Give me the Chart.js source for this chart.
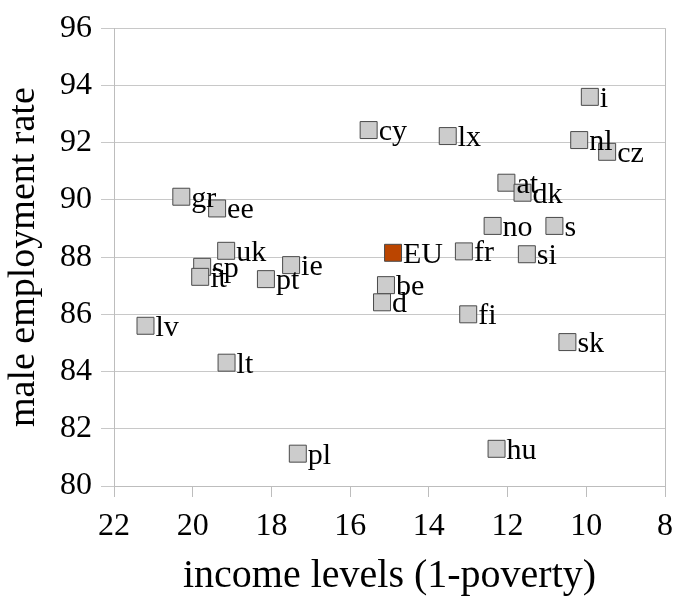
<!DOCTYPE html>
<html>
<head>
<meta charset="utf-8">
<script src="https://cdn.jsdelivr.net/npm/chart.js@4/dist/chart.umd.min.js"></script>
<style>
  html, body { margin: 0; padding: 0; background: #ffffff; }
  #wrap { width: 683px; height: 596px; }
</style>
</head>
<body>
<div id="wrap"><canvas id="c" width="683" height="596"></canvas></div>
<script>
const countries = ['gr','ee','uk','sp','it','pt','ie','i','lx','nl','cz','at','dk','no','s','fr','si','cy','EU','be','d','fi','sk','hu','lv','lt','pl'];
const incomeLevels = [20.29,19.38,19.15,19.76,19.81,18.14,17.50,9.91,13.52,10.18,9.47,12.03,11.62,12.38,10.81,13.11,11.51,15.53,14.91,15.09,15.19,13.00,10.48,12.28,21.20,19.14,17.33];
const maleEmployment = [90.11,89.70,88.22,87.66,87.31,87.23,87.72,93.60,92.23,92.09,91.68,90.60,90.25,89.09,89.09,88.20,88.10,92.44,88.15,87.02,86.42,86.00,85.03,81.30,85.60,84.31,81.13];
const xTicks = [22,20,18,16,14,12,10,8];
const yTicks = [80,82,84,86,88,90,92,94,96];

const FONT = '"Liberation Serif", "Times New Roman", serif';
const points = countries.map((c, i) => ({x: incomeLevels[i], y: maleEmployment[i]}));

const labelPlugin = {
  id: 'pointLabels',
  beforeDatasetsDraw(chart) {
    const {ctx, chartArea: a} = chart;
    ctx.save();
    ctx.strokeStyle = '#bdbdbd';
    ctx.lineWidth = 1;
    ctx.beginPath();
    ctx.moveTo(Math.round(a.right) + 0.5, a.top);
    ctx.lineTo(Math.round(a.right) + 0.5, a.bottom);
    ctx.stroke();
    ctx.restore();
  },
  afterDatasetsDraw(chart) {
    const {ctx} = chart;
    const meta = chart.getDatasetMeta(0);
    ctx.save();
    ctx.font = '30px ' + FONT;
    ctx.fillStyle = '#000000';
    ctx.textAlign = 'left';
    ctx.textBaseline = 'alphabetic';
    meta.data.forEach((el, i) => {
      ctx.fillText(countries[i], el.x + 10, el.y + 10);
    });
    ctx.restore();
  }
};

new Chart(document.getElementById('c'), {
  type: 'scatter',
  data: {
    datasets: [{
      data: points,
      pointStyle: 'rect',
      pointRadius: 12,
      pointHoverRadius: 12,
      pointBorderWidth: 1,
      pointBorderColor: '#4a4a4a',
      pointBackgroundColor: countries.map(c => c === 'EU' ? '#bb4500' : '#cccccc')
    }]
  },
  options: {
    responsive: false,
    animation: false,
    events: [],
    layout: { padding: { top: 28, right: 11, bottom: 0, left: 0 } },
    plugins: { legend: { display: false }, tooltip: { enabled: false } },
    scales: {
      x: {
        type: 'linear',
        reverse: true,
        min: 8, max: 22,
        afterBuildTicks(scale) { scale.ticks = xTicks.map(v => ({value: v})); },
        afterFit(scale) { scale.height = 110; },
        grid: { drawOnChartArea: false, drawTicks: true, tickLength: 11, color: '#bdbdbd' },
        border: { color: '#bdbdbd' },
        ticks: { font: { family: FONT, size: 32 }, color: '#000', padding: 10, maxRotation: 0 },
        title: { display: true, text: 'income levels (1-poverty)', color: '#000',
                 font: { family: FONT, size: 40, lineHeight: 1.0 }, padding: { top: 0, bottom: 0 } }
      },
      y: {
        type: 'linear',
        min: 80, max: 96,
        afterBuildTicks(scale) { scale.ticks = yTicks.map(v => ({value: v})); },
        afterFit(scale) { scale.width = 114; },
        grid: { drawOnChartArea: true, drawTicks: true, tickLength: 13, color: '#c8c8c8' },
        border: { color: '#bdbdbd' },
        ticks: { font: { family: FONT, size: 32 }, color: '#000', padding: 9 },
        title: { display: true, text: 'male employment rate', color: '#000',
                 font: { family: FONT, size: 38, lineHeight: 1.0 }, padding: { top: 5, bottom: 0 } }
      }
    }
  },
  plugins: [labelPlugin]
});
</script>
</body>
</html>
